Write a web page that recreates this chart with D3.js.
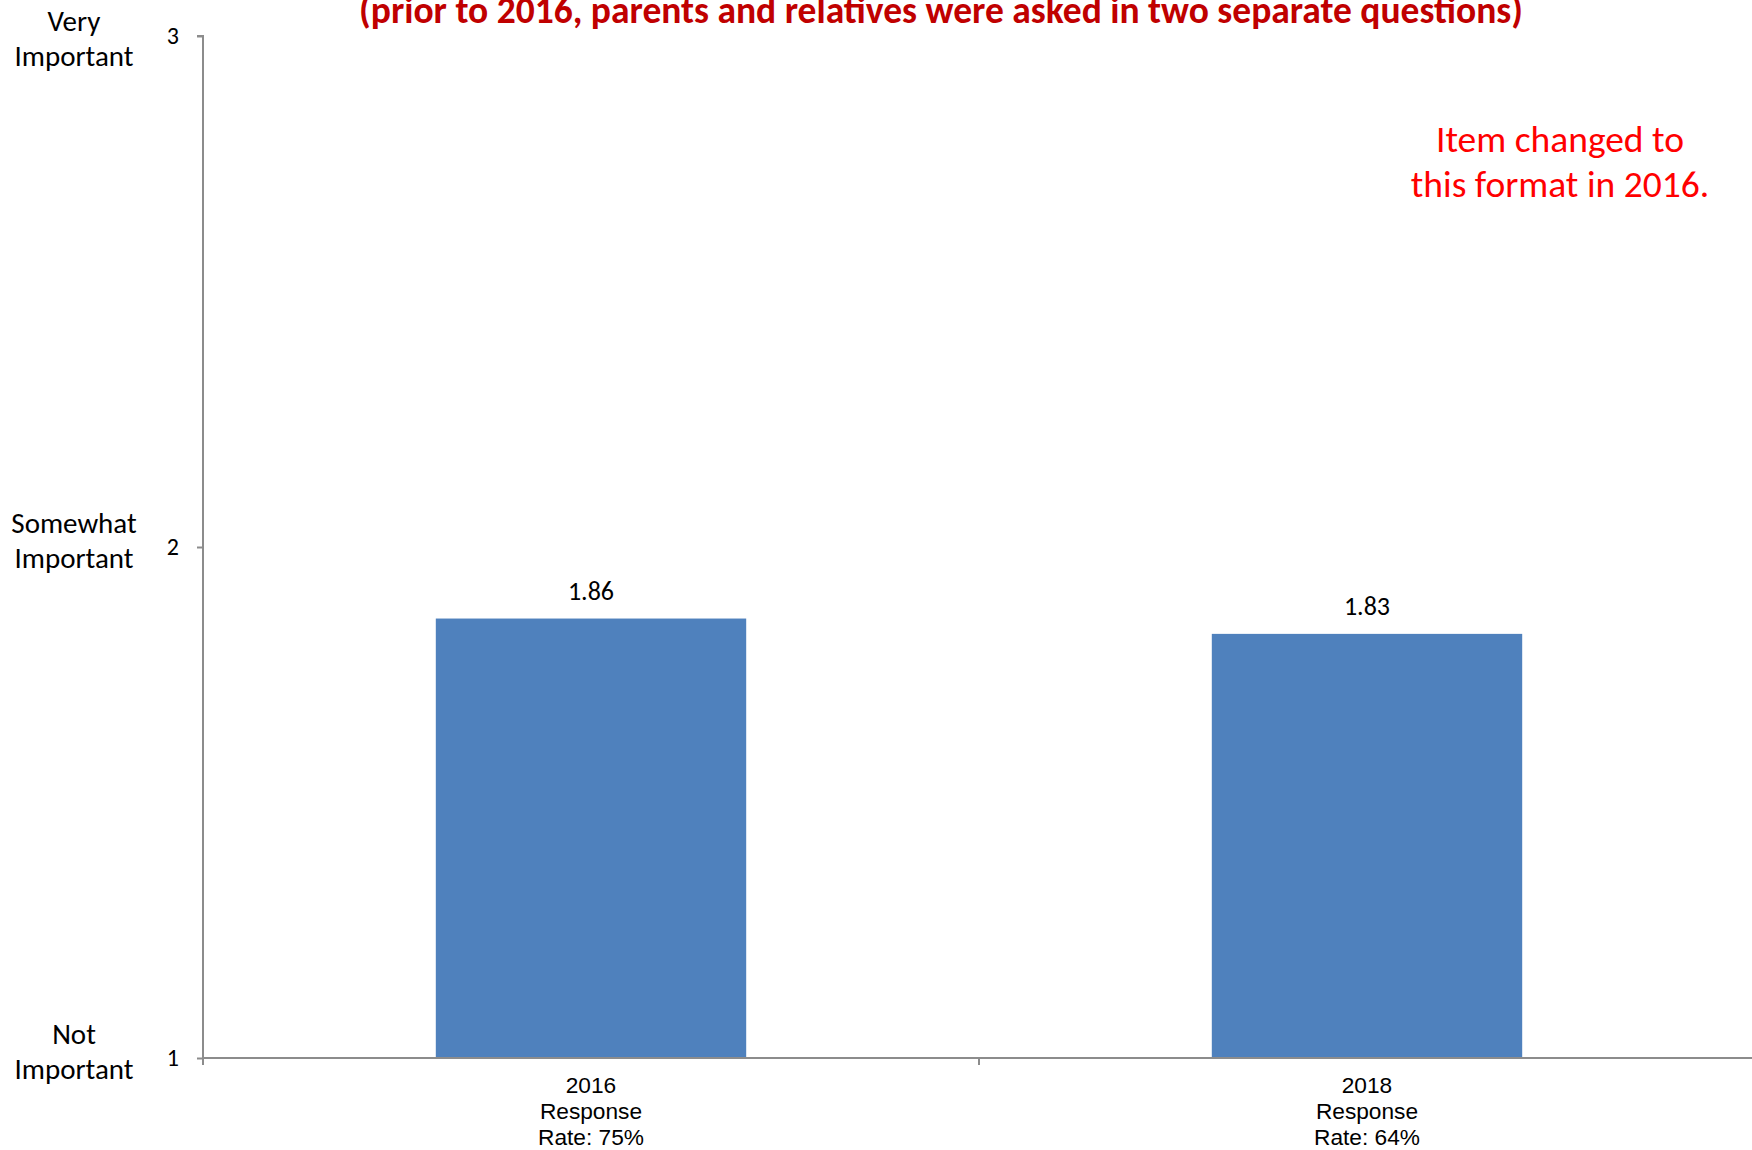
<!DOCTYPE html>
<html>
<head>
<meta charset="utf-8">
<script src="https://cdn.jsdelivr.net/npm/d3@7"></script>
<style>
html,body{margin:0;padding:0;background:#fff;}
svg{display:block;}
</style>
</head>
<body>
<svg id="chart" width="1752" height="1150"></svg>
<script>
const categories = ["2016", "2018"];
const categoryLines = [["2016", "Response", "Rate: 75%"], ["2018", "Response", "Rate: 64%"]];
const values = [1.86, 1.83];
const valueLabels = ["1.86", "1.83"];
const yTicks = [1, 2, 3];
const yTickNames = [["Not", "Important"], ["Somewhat", "Important"], ["Very", "Important"]];
const titleText = "(prior to 2016, parents and relatives were asked in two separate questions)";
const noteLines = ["Item changed to", "this format in 2016."];

(function () {
const svg = d3.select("#chart");
const calibri = "Carlito, Lato, 'Noto Sans', sans-serif";
const arial = "'Liberation Sans', Arial, sans-serif";

const plotLeft = 203, plotRight = 1755, plotTop = 36, plotBottom = 1058;

const x = d3.scaleBand().domain(categories).range([plotLeft, plotRight]).paddingInner(0.6).paddingOuter(0.3);
const y = d3.scaleLinear().domain([1, 3]).range([plotBottom, plotTop]);

// title
svg.append("text")
  .attr("x", 941).attr("y", 23)
  .attr("text-anchor", "middle")
  .attr("font-family", calibri).attr("font-weight", "bold")
  .attr("font-size", 37.5).attr("fill", "#C00000")
  .text(titleText);

// bars
svg.selectAll("rect.bar").data(values).enter().append("rect")
  .attr("class", "bar")
  .attr("x", (d, i) => x(categories[i]))
  .attr("width", x.bandwidth())
  .attr("y", d => y(d))
  .attr("height", d => y(1) - y(d))
  .attr("fill", "#4F81BD");

// value labels
svg.selectAll("text.val").data(values).enter().append("text")
  .attr("class", "val")
  .attr("x", (d, i) => x(categories[i]) + x.bandwidth() / 2)
  .attr("y", d => y(d) - 19)
  .attr("text-anchor", "middle")
  .attr("font-family", calibri).attr("font-size", 26).attr("fill", "#000")
  .text((d, i) => valueLabels[i]);

// y axis
const yAxis = d3.axisLeft(y).tickValues(yTicks).tickSize(6).tickPadding(18).tickFormat(d3.format("d"));
const gy = svg.append("g").attr("transform", `translate(${plotLeft},0)`).call(yAxis);
gy.select(".domain").attr("stroke", "#8c8c8c").attr("stroke-width", 2).attr("d", `M-6,${plotTop}H0V${plotBottom + 6}`);
gy.selectAll(".tick line").attr("stroke", "#8c8c8c").attr("stroke-width", 2);
gy.selectAll(".tick text").attr("font-family", calibri).attr("font-size", 24).attr("fill", "#000");

// y category names
yTicks.forEach((t, i) => {
  const g = svg.append("text")
    .attr("text-anchor", "middle")
    .attr("font-family", calibri).attr("font-size", 29).attr("fill", "#000");
  const c0 = Math.max(y(t) - 24, 21);
  yTickNames[i].forEach((ln, j) => {
    g.append("tspan").attr("x", 74).attr("y", c0 + j * 35 + 10).text(ln);
  });
});

// x axis
const xAxis = d3.axisBottom(x).tickSize(0).tickFormat("");
const gx = svg.append("g").attr("transform", `translate(0,${plotBottom})`).call(xAxis);
gx.select(".domain").attr("stroke", "#8c8c8c").attr("stroke-width", 2).attr("d", `M${plotLeft},0H${plotRight}`);
const seps = [plotLeft, plotLeft + x.step(), plotLeft + x.step() * 2];
gx.selectAll("line.sep").data(seps).enter().append("line")
  .attr("class", "sep")
  .attr("x1", d => d).attr("x2", d => d).attr("y1", 0).attr("y2", 7)
  .attr("stroke", "#8c8c8c").attr("stroke-width", 2);

// x labels
categories.forEach((c, i) => {
  const t = svg.append("text")
    .attr("text-anchor", "middle")
    .attr("font-family", arial).attr("font-size", 22.7).attr("fill", "#000");
  categoryLines[i].forEach((ln, j) => {
    t.append("tspan").attr("x", x(c) + x.bandwidth() / 2).attr("y", 1093 + j * 26).text(ln);
  });
});

// note
const note = svg.append("text")
  .attr("text-anchor", "middle")
  .attr("font-family", calibri).attr("font-size", 37.5).attr("fill", "#FF0000");
noteLines.forEach((ln, j) => {
  note.append("tspan").attr("x", 1560).attr("y", 152 + j * 45).text(ln);
});
})();
</script>
</body>
</html>
